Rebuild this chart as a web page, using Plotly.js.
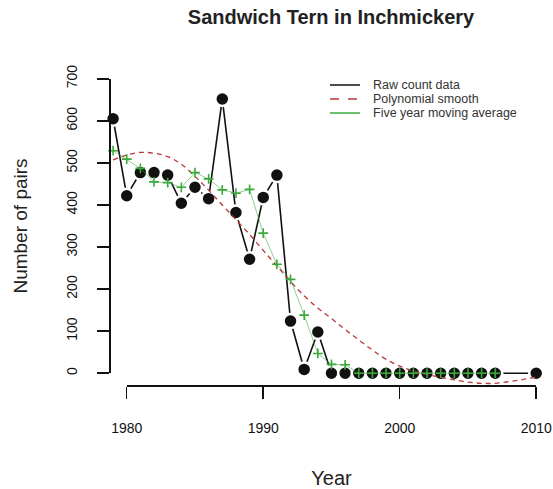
<!DOCTYPE html>
<html>
<head>
<meta charset="utf-8">
<script src="https://cdn.plot.ly/plotly-3.0.1.min.js"></script>
<style>
  html, body { margin: 0; padding: 0; background: #fff; }
  #chart { width: 553px; height: 489px; }
</style>
</head>
<body>
<div id="chart"></div>
<script>
// Sandwich Tern breeding pairs on Inchmickery

// Raw annual counts (no counts for 2008 and 2009)
const rawYears = [1979, 1980, 1981, 1982, 1983, 1984, 1985, 1986, 1987, 1988,
                  1989, 1990, 1991, 1992, 1993, 1994, 1995, 1996, 1997, 1998,
                  1999, 2000, 2001, 2002, 2003, 2004, 2005, 2006, 2007, 2010];
const rawPairs = [605, 422, 477, 477, 471, 404, 442, 415, 652, 382,
                  271, 418, 471, 124, 9, 98, 0, 0, 0, 0,
                  0, 0, 0, 0, 0, 0, 0, 0, 0, 0];

// Polynomial smooth of the counts
const smoothYears = [1979, 1980, 1981, 1982, 1983, 1984, 1985, 1986, 1987, 1988,
                     1989, 1990, 1991, 1992, 1993, 1994, 1995, 1996, 1997, 1998,
                     1999, 2000, 2001, 2002, 2003, 2004, 2005, 2006, 2007, 2008,
                     2009, 2010];
const smoothPairs = [507, 519, 525, 523, 515, 497, 468, 435, 400, 365,
                     330, 292, 255, 218, 184, 155, 130, 104, 79, 55,
                     33, 17, 5, -3, -10, -16, -21, -24, -24, -20,
                     -15, -9];

// Five year moving average
const avgYears = [1979, 1980, 1981, 1982, 1983, 1984, 1985, 1986, 1987, 1988,
                  1989, 1990, 1991, 1992, 1993, 1994, 1995, 1996, 1997, 1998,
                  1999, 2000, 2001, 2002, 2003, 2004, 2005, 2006, 2007];
const avgPairs = [529, 509, 487, 455, 453, 442, 477, 462, 436, 428,
                  437, 333, 259, 223, 138, 47, 21, 20, 0, 0,
                  0, 0, 0, 0, 0, 0, 0, 0, 0];

// Axis ticks and legend text
const xTicks = [1980, 1990, 2000, 2010];
const yTicks = [0, 100, 200, 300, 400, 500, 600, 700];
const seriesNames = ["Raw count data", "Polynomial smooth", "Five year moving average"];
const seriesColors = ["#111111", "#b8393a", "#3aa83a"];
const seriesDash = ["solid", "5px,4px", "solid"];

// Page geometry (pixels)
const W = 553, H = 489;
const plotL = 109, plotR = 553, plotT = 67, plotB = 385;
const xRange = [1978.70, 2011.23];
const yRange = [-28, 728];

const pxX = (yr) => plotL + (yr - xRange[0]) / (xRange[1] - xRange[0]) * (plotR - plotL);
const pxY = (v) => plotB - (v - yRange[0]) / (yRange[1] - yRange[0]) * (plotB - plotT);
const paperX = (px) => (px - plotL) / (plotR - plotL);
const paperY = (py) => (plotB - py) / (plotB - plotT);

const FONT = "Liberation Sans, Arial, sans-serif";

const traces = [
  // carrier for the drawn axes (drawn first so the data sits above it)
  { x: [], y: [], xaxis: "x2", yaxis: "y2", type: "scatter", mode: "markers",
    showlegend: false, hoverinfo: "skip" },
  {
    name: seriesNames[0], x: rawYears, y: rawPairs,
    type: "scatter", mode: "lines+markers",
    line: { color: seriesColors[0], width: 1.6 },
    marker: { symbol: "circle", size: 14, color: seriesColors[0],
              line: { color: "#ffffff", width: 2.5 } },
    cliponaxis: false, showlegend: false, hoverinfo: "x+y"
  },
  {
    name: seriesNames[1], x: smoothYears, y: smoothPairs,
    type: "scatter", mode: "lines",
    line: { color: seriesColors[1], width: 1.3, dash: seriesDash[1], shape: "spline" },
    showlegend: false, hoverinfo: "x+y"
  },
  {
    name: seriesNames[2], x: avgYears, y: avgPairs,
    type: "scatter", mode: "lines+markers",
    line: { color: "rgba(58,168,58,0.55)", width: 1 },
    marker: { symbol: "cross-thin", size: 7, color: seriesColors[2],
              line: { color: seriesColors[2], width: 1.6 } },
    cliponaxis: false, showlegend: false, hoverinfo: "x+y"
  }
];

// Legend drawn as line samples plus labels
const legendRows = [85, 99, 113];
const shapes = legendRows.map((py, i) => ({
  type: "line", xref: "paper", yref: "paper",
  x0: paperX(330), x1: paperX(360), y0: paperY(py), y1: paperY(py),
  line: { color: seriesColors[i], width: 1.5, dash: seriesDash[i] === "solid" ? "solid" : "dash" }
}));
const annotations = legendRows.map((py, i) => ({
  xref: "paper", yref: "paper", x: paperX(371), y: paperY(py),
  xanchor: "left", yanchor: "middle", showarrow: false,
  text: seriesNames[i], font: { family: FONT, size: 12.5, color: "#333" }
}));

const layout = {
  width: W, height: H,
  margin: { l: plotL, r: W - plotR, t: plotT, b: H - plotB, pad: 0 },
  paper_bgcolor: "#ffffff", plot_bgcolor: "rgba(0,0,0,0)",
  showlegend: false,
  title: {
    text: "<b>Sandwich Tern in Inchmickery</b>",
    font: { family: FONT, size: 20, color: "#222" },
    xref: "paper", x: 0.5, xanchor: "center",
    yref: "container", y: 1 - 17 / H, yanchor: "middle"
  },
  xaxis: {
    range: xRange, domain: [0, 1], visible: false, fixedrange: true
  },
  yaxis: {
    range: yRange, domain: [0, 1], visible: false, fixedrange: true
  },
  xaxis2: {
    range: [xTicks[0], xTicks[xTicks.length - 1]],
    domain: [paperX(pxX(xTicks[0])), paperX(pxX(xTicks[xTicks.length - 1]))],
    anchor: "free", position: 0,
    showline: true, linecolor: "#111", linewidth: 1.5,
    ticks: "outside", ticklen: 12, tickwidth: 1.5, tickcolor: "#111",
    tickmode: "array", tickvals: xTicks, ticktext: xTicks.map(String),
    ticklabelstandoff: 18,
    tickfont: { family: FONT, size: 14, color: "#111" },
    showgrid: false, zeroline: false, fixedrange: true,
    title: { text: "Year", font: { family: FONT, size: 20, color: "#222" }, standoff: 37 }
  },
  yaxis2: {
    range: [yTicks[0], yTicks[yTicks.length - 1]],
    domain: [paperY(pxY(yTicks[0])), paperY(pxY(yTicks[yTicks.length - 1]))],
    anchor: "free", position: 0,
    showline: true, linecolor: "#111", linewidth: 1.5,
    ticks: "outside", ticklen: 12, tickwidth: 1.5, tickcolor: "#111",
    tickmode: "array", tickvals: yTicks, ticktext: yTicks.map(String),
    tickangle: -90, ticklabelstandoff: 14,
    tickfont: { family: FONT, size: 14, color: "#111" },
    showgrid: false, zeroline: false, fixedrange: true,
    title: { text: "Number of pairs", font: { family: FONT, size: 19, color: "#222" }, standoff: 30 }
  },
  shapes: shapes,
  annotations: annotations
};

Plotly.newPlot("chart", traces, layout, { displayModeBar: false, staticPlot: true });
</script>
</body>
</html>
